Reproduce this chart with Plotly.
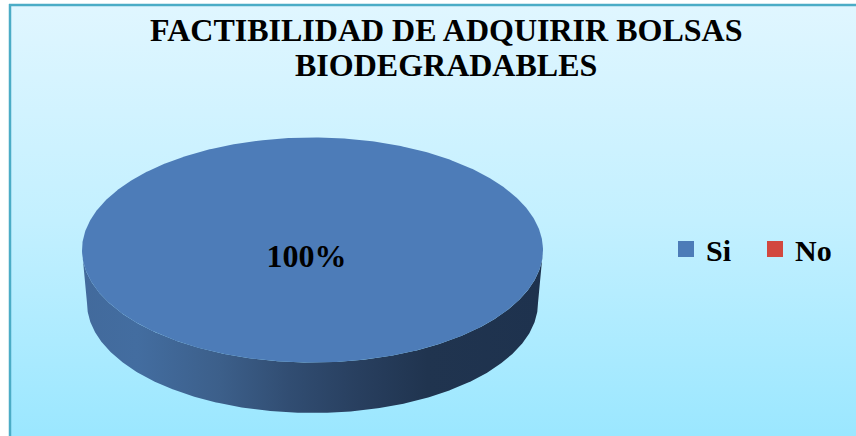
import numpy as np
import plotly.graph_objects as go

title_lines = ["FACTIBILIDAD DE ADQUIRIR BOLSAS", "BIODEGRADABLES"]
categories = ["Si", "No"]
shares = [100, 0]
labels = ["100%"]
colors = ["#4d7cb8", "#d2483f"]

W, H = 856, 436
CX, CY, RX, RY = 312.5, 250, 230.5, 112.5
BCY, BRX, BRY = 303, 225.5, 110

def arc(cx, cy, rx, ry, a0, a1, n=360):
    t = np.linspace(a0, a1, n)
    return cx + rx * np.cos(t), cy + ry * np.sin(t)

fig = go.Figure()

# background panel
fig.add_trace(go.Scatter(
    x=[10, W, W, 10, 10], y=[5, 5, H, H, 5], mode="lines", line=dict(width=0),
    fill="toself", hoverinfo="skip", showlegend=False,
    fillgradient=dict(type="vertical", start=5, stop=H,
                      colorscale=[[0, "#e0f6ff"], [0.5, "#c3f0ff"], [1, "#9be7ff"]]),
))

total = sum(shares)
start = 0.0
for cat, val, col in zip(categories, shares, colors):
    if val <= 0:
        continue
    a0 = start
    a1 = start + 2 * np.pi * val / total
    start = a1
    # visible lower side wall
    wa0, wa1 = max(a0, 0), min(a1, np.pi)
    tx, ty = arc(CX, CY, RX, RY, wa0, wa1)
    bx, by = arc(CX, BCY, BRX, BRY, wa1, wa0)
    fig.add_trace(go.Scatter(
        x=np.r_[tx, bx, tx[0]], y=np.r_[ty, by, ty[0]], mode="lines", line=dict(width=0),
        fill="toself", hoverinfo="skip", showlegend=False,
        fillgradient=dict(type="horizontal", start=CX - RX, stop=CX + RX, colorscale=[
            [0, "#426a9c"], [0.12, "#436da0"], [0.3, "#3c5f8a"], [0.45, "#314d72"],
            [0.6, "#283f5f"], [0.75, "#20344f"], [1, "#1e324e"]]),
    ))
    # top face
    x, y = arc(CX, CY, RX, RY, a0, a1, 721)
    fig.add_trace(go.Scatter(
        x=x, y=y, mode="lines", line=dict(width=0, color=col), fill="toself",
        fillcolor=col, hoverinfo="skip", showlegend=False,
    ))

# slice label
fig.add_trace(go.Scatter(
    x=[306.5], y=[259], mode="text", text=labels, showlegend=False, hoverinfo="skip",
    textfont=dict(family="Liberation Serif", size=32, color="#000000"),
    texttemplate="<b>%{text}</b>", textposition="middle center",
))

# legend entries
for cat, col in zip(categories, colors):
    fig.add_trace(go.Scatter(
        x=[None], y=[None], mode="markers", name=f"<b>{cat}</b>",
        marker=dict(symbol="square", size=17, color=col),
    ))

fig.update_layout(
    width=W, height=H, margin=dict(l=0, r=0, t=0, b=0, pad=0),
    paper_bgcolor="#ffffff", plot_bgcolor="#ffffff",
    xaxis=dict(range=[0, W], visible=False, fixedrange=True),
    yaxis=dict(range=[H, 0], visible=False, fixedrange=True),
    font=dict(family="Liberation Serif", color="#000000"),
    legend=dict(
        orientation="h", x=666 / W, y=1 - 249 / H, xanchor="left", yanchor="middle",
        font=dict(family="Liberation Serif", size=30, color="#000000"),
        bgcolor="rgba(0,0,0,0)", itemwidth=30, entrywidth=44, entrywidthmode="pixels",
    ),
    annotations=[
        dict(text=f"<b>{line}</b>", x=446, y=yy,
             xref="x", yref="y", showarrow=False, xanchor="center", yanchor="middle",
             font=dict(family="Liberation Serif", size=32, color="#000000"), align="center")
        for line, yy in zip(title_lines, [30, 65])
    ],
    shapes=[
        dict(type="line", x0=10, x1=10, y0=4, y1=H, xref="x", yref="y",
             line=dict(color="#4bacc6", width=2.5)),
        dict(type="line", x0=9, x1=W, y0=5, y1=5, xref="x", yref="y",
             line=dict(color="#4bacc6", width=2.5)),
    ],
)

fig.write_html("out.html", config={"displayModeBar": False},
               post_script="document.body.style.margin='0';")
